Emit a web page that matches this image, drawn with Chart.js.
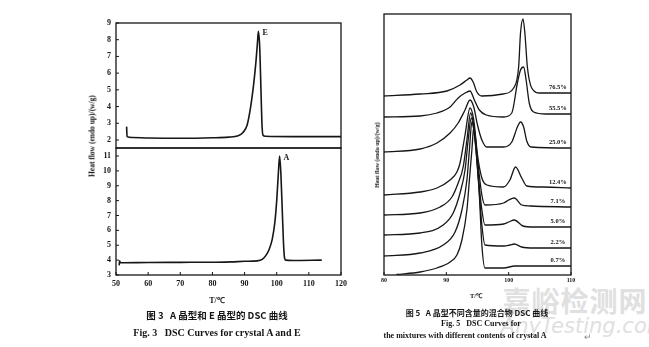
<!DOCTYPE html>
<html>
<head>
<meta charset="utf-8">
<script src="https://cdn.jsdelivr.net/npm/chart.js@4.4.1/dist/chart.umd.min.js"></script>
<style>
  body { margin: 0; background: #fff; width: 649px; height: 347px; overflow: hidden; position: relative; font-family: "Liberation Serif", serif; }
  canvas.layer { position: absolute; left: 0; top: 0; }
  .t { position: absolute; white-space: nowrap; font-weight: bold; color: #151515; transform: translate(-50%, -50%); }
  .rot { transform: translate(-50%, -50%) rotate(-90deg); }
  .cjk { font-family: "Noto Sans CJK SC", sans-serif; font-weight: 700; }
  .mark { position: absolute; white-space: nowrap; color: #e0e0e0; transform: translate(-50%, -50%); }
</style>
</head>
<body>
<div class="mark cjk" style="left:575px; top:300px; font-size:28px; letter-spacing:1px;">嘉峪检测网</div>
<div class="mark" style="left:584px; top:326px; font-size:21px; font-style:italic; font-family:'DejaVu Sans', sans-serif;">AnyTesting.com</div>

<canvas id="dscE" class="layer" width="649" height="347"></canvas>
<canvas id="dscA" class="layer" width="649" height="347"></canvas>
<canvas id="dscMix" class="layer" width="649" height="347"></canvas>

<div class="t rot" style="left:92px; top:136px; font-size:7.5px;">Heat flow (endo up)/(w/g)</div>
<div class="t" style="left:217px; top:299px; font-size:8px;">T/℃</div>
<div class="t cjk" style="left:217px; top:315px; font-size:9.5px;">图 3&nbsp;&nbsp;&nbsp;A 晶型和 E 晶型的 DSC 曲线</div>
<div class="t" style="left:217px; top:332px; font-size:10px;">Fig. 3&nbsp;&nbsp;&nbsp;DSC Curves for crystal A and E</div>

<div class="t rot" style="left:377px; top:155px; font-size:6px;">Heat flow (endo up)/(w/g)</div>
<div class="t" style="left:476px; top:295px; font-size:6.5px;">T/℃</div>
<div class="t cjk" style="left:477px; top:312px; font-size:8px;">图 5&nbsp;&nbsp;&nbsp;A 晶型不同含量的混合物 DSC 曲线</div>
<div class="t" style="left:481px; top:323px; font-size:8px;">Fig. 5&nbsp;&nbsp;&nbsp;DSC Curves for</div>
<div class="t" style="left:465px; top:335px; font-size:8px;">the mixtures with different contents of crystal A</div>
<div class="t" style="left:588px; top:337px; font-size:9px; color:#888; font-weight:normal;">↵</div>

<script>
// Fig. 3: single crystal forms, heat flow vs temperature
var xTicksLeft = [50, 60, 70, 80, 90, 100, 110, 120];
var yTicksE = [2, 3, 4, 5, 6, 7, 8, 9];
var yTicksA = [3, 4, 5, 6, 7, 8, 9, 10, 11];

var curveE = [[53.3, 2.8], [53.45, 2.2], [55, 2.15], [60, 2.12], [70, 2.1], [80, 2.13], [85, 2.17],
  [88, 2.25], [89.5, 2.45], [90.8, 2.9], [91.9, 4.0], [92.8, 5.3], [93.5, 6.6], [94.0, 7.8],
  [94.3, 8.5], [94.7, 7.6], [95.1, 5.0], [95.4, 3.0], [95.7, 2.3], [96.5, 2.22], [105, 2.2], [120, 2.2]];

var curveA = [[51.0, 3.65], [51.1, 3.95], [51.4, 3.82], [60, 3.84], [70, 3.85], [80, 3.86], [86, 3.88],
  [90, 3.92], [94, 3.95], [95.5, 4.05], [96.6, 4.3], [97.6, 4.7], [98.6, 5.4], [99.4, 6.5],
  [100.0, 8.0], [100.5, 9.8], [100.9, 11.0], [101.3, 9.8], [101.7, 7.5], [102.1, 5.2], [102.4, 4.2],
  [102.8, 4.0], [105, 3.98], [114, 4.0]];

// Fig. 5: mixtures, curves offset vertically (arbitrary units)
var xTicksRight = [80, 90, 100, 110];
var mixLabels = ["76.5%", "55.5%", "25.0%", "12.4%", "7.1%", "5.0%", "2.2%", "0.7%"];

var mix765 = [[80, 17.9], [85.8, 18.1], [90.1, 18.4], [92.2, 19.0], [93.3, 19.5], [93.8, 19.7], [94.3, 19.3],
  [94.9, 18.3], [95.7, 17.9], [99.1, 18.1], [100.8, 18.7], [101.6, 20.8], [101.9, 24.2], [102.3, 25.6],
  [102.6, 24.2], [103.0, 20.8], [103.7, 18.7], [105, 18.2], [110, 18.2]];
var mix555 = [[80, 15.8], [85.8, 15.9], [88.5, 16.2], [90.6, 16.8], [91.9, 17.7], [93.0, 18.2], [93.8, 18.4],
  [94.5, 17.5], [95.3, 16.5], [96.4, 16.0], [99.2, 15.8], [100.5, 16.2], [101.4, 19.2], [101.9, 20.5],
  [102.4, 20.8], [102.8, 19.5], [103.3, 17.2], [104, 16.3], [106, 16.1], [110, 16.1]];
var mix250 = [[80, 12.3], [85.8, 12.6], [88.5, 13.2], [90.6, 14.2], [91.9, 15.2], [93.0, 16.5], [93.8, 17.5],
  [94.4, 16.8], [95.0, 15.0], [95.7, 13.5], [96.5, 12.8], [99.2, 12.8], [100.5, 13.3], [101.4, 14.8],
  [101.9, 15.3], [102.4, 14.8], [102.9, 13.4], [103.6, 12.8], [110, 12.7]];
var mix124 = [[80, 8.0], [85.8, 8.3], [88.5, 8.7], [90.6, 9.5], [91.7, 10.3], [92.2, 11.2], [93.0, 14.0],
  [93.8, 16.7], [94.4, 15.5], [95.0, 12.0], [95.7, 9.7], [96.5, 9.0], [99.2, 8.8], [100.2, 9.5],
  [101.1, 10.8], [102.1, 9.7], [102.9, 8.9], [105.6, 8.8], [110, 8.7]];
var mix71 = [[80, 6.0], [85.8, 6.2], [89.0, 6.8], [90.9, 7.8], [91.9, 9.2], [92.7, 10.8], [93.3, 13.5],
  [93.9, 16.2], [94.5, 14.5], [95.1, 11.0], [95.7, 8.0], [96.2, 7.0], [99.2, 7.2], [100.0, 7.5],
  [100.9, 7.7], [102.1, 7.0], [103.5, 6.9], [110, 6.8]];
var mix50 = [[80, 4.0], [85.8, 4.2], [89.5, 5.0], [91.1, 6.2], [92.2, 8.2], [93.0, 10.5], [93.5, 13.5],
  [94.0, 15.7], [94.6, 13.5], [95.1, 10.0], [95.7, 6.5], [96.2, 5.0], [99.2, 5.1], [100.0, 5.3],
  [100.9, 5.5], [102.3, 4.9], [104, 4.8], [110, 4.8]];
var mix22 = [[80, 1.9], [85.8, 2.2], [89.5, 3.0], [91.4, 4.3], [92.5, 6.5], [93.3, 9.5], [93.7, 12.5],
  [94.1, 15.3], [94.7, 13.0], [95.2, 9.0], [95.7, 5.0], [96.2, 3.0], [99.2, 2.9], [100.2, 3.0],
  [100.9, 3.1], [102.1, 2.8], [104, 2.7], [110, 2.7]];
var mix07 = [[82.0, 0.05], [85.8, 0.3], [88.5, 0.7], [90.6, 1.3], [91.7, 2.0], [92.5, 3.5], [93.3, 6.5],
  [93.7, 9.5], [94.1, 12.5], [94.4, 14.8], [94.9, 12.0], [95.3, 8.0], [95.7, 3.0], [96.2, 0.7],
  [99.2, 0.7], [101, 0.9], [102, 0.9], [110, 0.9]];

var mixCurves = [mix765, mix555, mix250, mix124, mix71, mix50, mix22, mix07];

Chart.defaults.font.family = '"Liberation Serif", serif';
Chart.defaults.font.weight = 'bold';
Chart.defaults.color = '#151515';
Chart.defaults.animation = false;

function toPoints(arr) {
  return arr.map(function (p) { return { x: p[0], y: p[1] }; });
}

function line(label, arr, width) {
  return {
    label: label,
    data: toPoints(arr),
    showLine: true,
    borderColor: '#161616',
    borderWidth: width,
    pointRadius: 0,
    cubicInterpolationMode: 'monotone',
    fill: false
  };
}

function fixedTicks(values) {
  return function (scale) {
    scale.ticks = values.map(function (v) { return { value: v }; });
  };
}

// box round the plot area plus short inward tick marks
var frame = {
  id: 'frame',
  afterDraw: function (chart, args, opts) {
    var ctx = chart.ctx, a = chart.chartArea, len = 3;
    ctx.save();
    ctx.strokeStyle = '#161616';
    ctx.lineWidth = 1.3;
    ctx.strokeRect(a.left, a.top, a.right - a.left, a.bottom - a.top);
    ctx.lineWidth = 1;
    ctx.beginPath();
    if (opts.xTicks) {
      chart.scales.x.ticks.forEach(function (t) {
        var px = chart.scales.x.getPixelForValue(t.value);
        ctx.moveTo(px, a.bottom);
        ctx.lineTo(px, a.bottom - len);
      });
    }
    if (opts.yTicks) {
      chart.scales.y.ticks.forEach(function (t) {
        var py = chart.scales.y.getPixelForValue(t.value);
        ctx.moveTo(a.left, py);
        ctx.lineTo(a.left + len, py);
      });
    }
    ctx.stroke();
    ctx.restore();
  }
};

// letter next to the top of each peak
var peakLabel = {
  id: 'peakLabel',
  afterDatasetsDraw: function (chart) {
    var ctx = chart.ctx;
    ctx.save();
    ctx.font = 'bold 8px "Liberation Serif", serif';
    ctx.fillStyle = '#151515';
    ctx.textBaseline = 'middle';
    chart.data.datasets.forEach(function (ds) {
      var top = ds.data.reduce(function (m, p) { return p.y > m.y ? p : m; });
      ctx.fillText(ds.label, chart.scales.x.getPixelForValue(top.x) + 4,
        chart.scales.y.getPixelForValue(top.y) + 2);
    });
    ctx.restore();
  }
};

// content label above the right end of each mixture curve
var endLabel = {
  id: 'endLabel',
  afterDatasetsDraw: function (chart) {
    var ctx = chart.ctx;
    ctx.save();
    ctx.font = 'bold 6.5px "Liberation Serif", serif';
    ctx.fillStyle = '#151515';
    ctx.textAlign = 'center';
    ctx.textBaseline = 'middle';
    chart.data.datasets.forEach(function (ds) {
      var last = ds.data[ds.data.length - 1];
      ctx.fillText(ds.label, chart.scales.x.getPixelForValue(107.9),
        chart.scales.y.getPixelForValue(last.y) - 6);
    });
    ctx.restore();
  }
};

var noGrid = { display: false, drawTicks: false };

new Chart(document.getElementById('dscE'), {
  type: 'scatter',
  data: { datasets: [line('E', curveE, 1.6)] },
  options: {
    responsive: false,
    layout: { padding: { left: 0, top: 23, right: 308, bottom: 199 } },
    scales: {
      x: { type: 'linear', display: false, min: 50, max: 120 },
      y: {
        min: 1.52, max: 9,
        afterBuildTicks: fixedTicks(yTicksE),
        afterFit: function (s) { s.width = 116; },
        grid: noGrid, border: { display: false },
        ticks: { padding: 5, font: { size: 8 } }
      }
    },
    plugins: { legend: { display: false }, tooltip: { enabled: false }, frame: { xTicks: false, yTicks: true } }
  },
  plugins: [frame, peakLabel]
});

new Chart(document.getElementById('dscA'), {
  type: 'scatter',
  data: { datasets: [line('A', curveA, 1.6)] },
  options: {
    responsive: false,
    layout: { padding: { left: 0, top: 148, right: 308, bottom: 52 } },
    scales: {
      x: {
        type: 'linear', min: 50, max: 120,
        afterBuildTicks: fixedTicks(xTicksLeft),
        afterFit: function (s) { s.height = 20; },
        grid: noGrid, border: { display: false },
        ticks: { padding: 4, font: { size: 8 }, maxRotation: 0 }
      },
      y: {
        min: 3, max: 11.54,
        afterBuildTicks: fixedTicks(yTicksA),
        afterFit: function (s) { s.width = 116; },
        grid: noGrid, border: { display: false },
        ticks: { padding: 5, font: { size: 8 } }
      }
    },
    plugins: { legend: { display: false }, tooltip: { enabled: false }, frame: { xTicks: true, yTicks: true } }
  },
  plugins: [frame, peakLabel]
});

var mixSets = mixCurves.map(function (c, i) { return line(mixLabels[i], c, 1.3); });

new Chart(document.getElementById('dscMix'), {
  type: 'scatter',
  data: { datasets: mixSets },
  options: {
    responsive: false,
    layout: { padding: { left: 384, top: 14, right: 78, bottom: 56 } },
    scales: {
      x: {
        type: 'linear', min: 80, max: 110,
        afterBuildTicks: fixedTicks(xTicksRight),
        afterFit: function (s) { s.height = 16; },
        grid: noGrid, border: { display: false },
        ticks: { padding: 2, font: { size: 6 }, maxRotation: 0 }
      },
      y: { display: false, min: 0, max: 26.1 }
    },
    plugins: { legend: { display: false }, tooltip: { enabled: false }, frame: { xTicks: true, yTicks: false } }
  },
  plugins: [frame, endLabel]
});
</script>
</body>
</html>
